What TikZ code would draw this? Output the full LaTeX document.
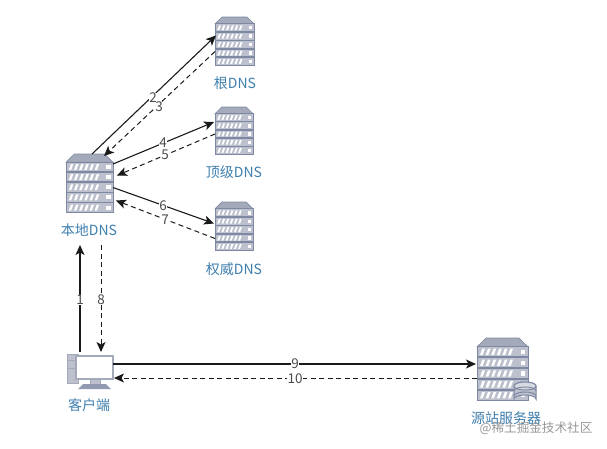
\documentclass[tikz,border=0pt]{standalone}
\usepackage{fontspec}
\setmainfont{Noto Sans CJK SC}
\usetikzlibrary{arrows.meta}
\definecolor{srvdark}{HTML}{7F88A3}
\definecolor{srvtop}{HTML}{A4AAB9}
\definecolor{srvrow}{HTML}{BCC1CD}
\definecolor{lab}{HTML}{3F7FAE}
\definecolor{ink}{HTML}{1A1A1A}
\tikzset{
  srv/.style={inner sep=0pt,outer sep=0pt,minimum width=#1},
  captext/.style={text=lab,font=\fontsize{14}{16}\selectfont,inner sep=0pt},
  num/.style={text=black!70,font=\fontsize{13.5}{15}\selectfont,fill=white,inner sep=0.4pt},
  solidarrow/.style={ink,line width=1.1pt,-{Stealth[length=10pt,width=9pt,inset=2.5pt]}},
  dasharrow/.style={ink,line width=1pt,dash pattern=on 5pt off 3.5pt,-{Stealth[length=10pt,width=9pt,inset=2.5pt]}},
}
\newcommand{\srvart}[5]{%
  \node[srv=#4 pt,minimum height=#5 pt] (#1) at (#2+#4/2,#3+#5/2) {};
  \begin{scope}[shift={(#2,#3)},xscale=#4/100,yscale=#5/100]
    \fill[srvtop,draw=srvdark,line width=0.6pt] (0,14) -- (18,0) -- (82,0) -- (100,14) -- cycle;
    \foreach \i in {0,...,4}{
      \pgfmathsetmacro{\yy}{14+17.2*\i}
      \fill[srvrow,draw=srvdark,line width=1pt] (0,\yy) rectangle (100,\yy+16);
      \foreach \k in {0,...,5}{
        \pgfmathsetmacro{\xx}{6+11*\k}
        \fill[white] (\xx,\yy+13) -- (\xx+5,\yy+13) -- (\xx+9.5,\yy+3) -- (\xx+4.5,\yy+3) -- cycle;
      }
      \fill[white] (86,\yy+4.5) rectangle (95,\yy+11.5);
    }
  \end{scope}
}
\begin{document}
\begin{tikzpicture}[x=1pt,y=-1pt]
\useasboundingbox (0,0) rectangle (607,448);
\fill[white] (0,0) rectangle (607,448);

\srvart{root}{215}{17}{39}{49}
\srvart{tld}{215}{107}{38}{48}
\srvart{auth}{215}{202}{38}{49}
\srvart{local}{66}{154}{47}{59}
\srvart{origin}{477}{338}{51}{63}

% database on origin server
\fill[srvrow,draw=srvdark,line width=1pt] (514,386) -- (514,399) arc[start angle=180,end angle=360,x radius=11,y radius=4] -- (536,386) arc[start angle=360,end angle=180,x radius=11,y radius=4] -- cycle;
\fill[srvrow!60!white,draw=srvdark,line width=1pt] (525,386) ellipse[x radius=11,y radius=4];
\draw[srvdark,line width=1pt] (514,391) arc[start angle=180,end angle=360,x radius=11,y radius=4];
\draw[srvdark,line width=1pt] (514,396) arc[start angle=180,end angle=360,x radius=11,y radius=4];

% client computer
\node[srv=46pt,minimum height=38pt] (client) at (90,372) {};
\fill[srvrow,draw=srvtop,line width=0.8pt] (67,354) rectangle (78,383);
\draw[srvtop,line width=0.8pt] (67,360) -- (78,360) (67,368) -- (78,368);
\fill[white,draw=srvtop,line width=1.3pt] (76,356) rectangle (113,379);
\fill[srvrow,draw=srvtop,line width=0.6pt] (90,379) rectangle (100,384);
\fill[srvdark!85] (83,384) -- (106,384) -- (111,389) -- (78,389) -- cycle;

% captions
\node[captext] (c1) at (235,83) {根DNS};
\node[captext] (c2) at (234,172) {顶级DNS};
\node[captext] (c3) at (234,269) {权威DNS};
\node[captext] (c4) at (89,230) {本地DNS};
\node[captext] (c5) at (89,405) {客户端};
\node[captext] (c6) at (506,418) {源站服务器};
\node[text=black!40,font=\fontsize{12.6}{14}\selectfont,inner sep=0pt] (wm) at (536,428.5) {@稀土掘金技术社区};

% connectors
\draw[solidarrow] ([shift={(-21,0)}]local.north east) -- ([shift={(1,-6)}]root.west);
\draw[dasharrow] ([shift={(0,10)}]root.west) -- ([shift={(-9,2)}]local.north east);
\draw[solidarrow] ([shift={(0,10)}]local.north east) -- ([shift={(-1,-9)}]tld.west);
\draw[dasharrow] ([shift={(0,3)}]tld.west) -- ([shift={(4,-8)}]local.east);
\draw[solidarrow] ([shift={(0,4)}]local.east) -- ([shift={(-1,-3)}]auth.west);
\draw[dasharrow] ([shift={(0,12)}]auth.west) -- ([shift={(3,17)}]local.east);
\draw[solidarrow] ([shift={(-10,-1)}]client.north) -- (80,245);
\draw[dasharrow] (101,245) -- ([shift={(11,-1)}]client.north);
\draw[solidarrow] ([shift={(23,-8)}]client.center) -- ([shift={(-1,-5.5)}]origin.west);
\draw[dasharrow] ([shift={(0,8.5)}]origin.west) -- ([shift={(24,6)}]client.center);

% numbers
\node[num] (n2) at (153,98) {2};
\node[num] (n3) at (159,107) {3};
\node[num] (n4) at (163,143) {4};
\node[num] (n5) at (165,155) {5};
\node[num] (n6) at (163,206) {6};
\node[num] (n7) at (165,220) {7};
\node[num] (n1) at (80,300) {1};
\node[num] (n8) at (101,300) {8};
\node[num] (n9) at (295,364) {9};
\node[num] (n10) at (295,379) {10};
\end{tikzpicture}
\end{document}
